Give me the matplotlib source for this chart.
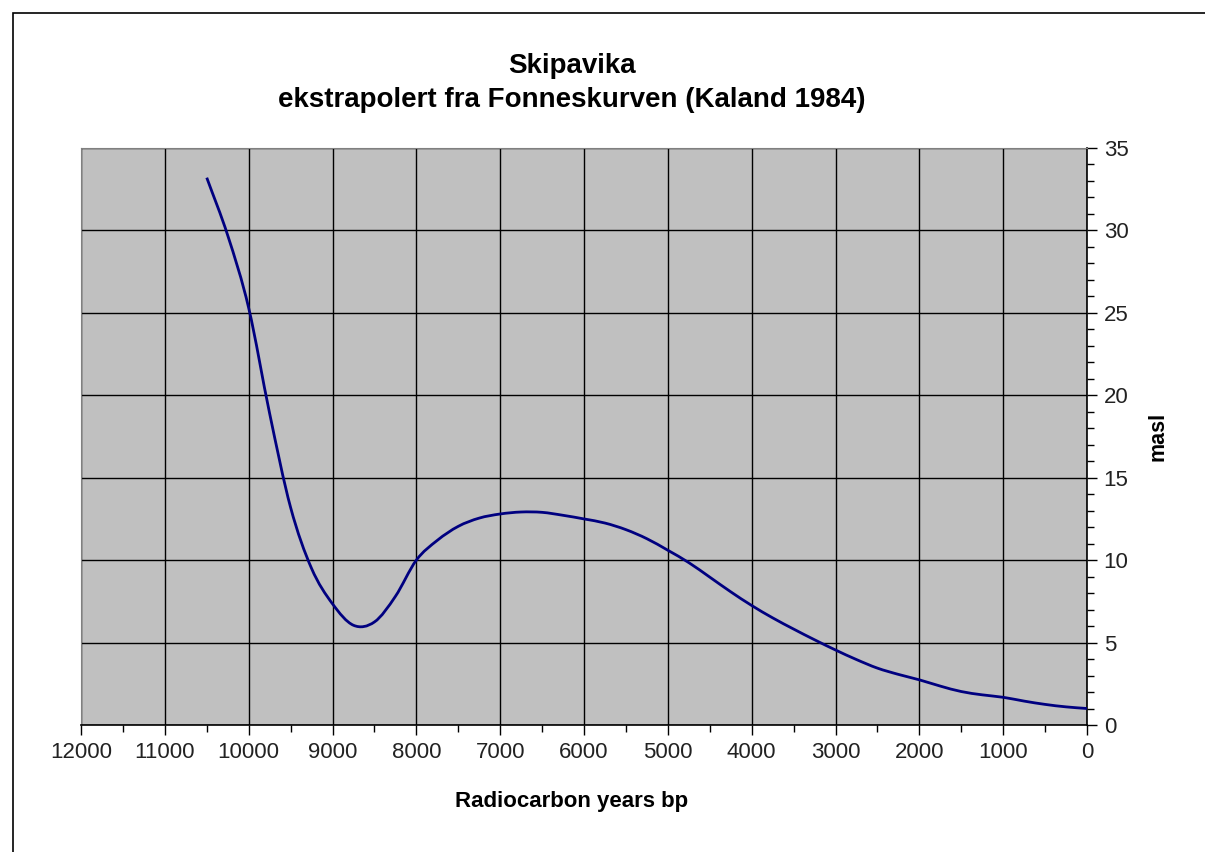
import matplotlib
matplotlib.use("Agg")
import matplotlib.pyplot as plt
from matplotlib.path import Path
from matplotlib.patches import PathPatch, Rectangle
from matplotlib.ticker import MultipleLocator

plt.rcParams['font.family'] = ['Liberation Sans', 'DejaVu Sans']

# data (radiocarbon years bp, metres above sea level)
years = [10500, 10250, 10000, 9750, 9500, 9250, 9000, 8750, 8500, 8250,
         8000, 7750, 7500, 7250, 7000, 6750, 6500, 6250, 6000, 5750,
         5500, 5250, 5000, 4750, 4500, 4250, 4000, 3750, 3500, 3250, 3000,
         2750, 2500, 2250, 2000, 1750, 1500, 1250, 1000, 750, 500, 250, 0]
masl = [33.2, 29.7, 25.3, 18.9, 13.2, 9.5, 7.35, 6.05, 6.25, 7.8,
        10.0, 11.2, 12.05, 12.55, 12.8, 12.92, 12.9, 12.72, 12.5, 12.25,
        11.85, 11.3, 10.6, 9.85, 8.97, 8.08, 7.25, 6.5, 5.82, 5.17, 4.55,
        3.97, 3.45, 3.07, 2.74, 2.36, 2.03, 1.83, 1.68, 1.45, 1.25, 1.1, 1.0]

title = "Skipavika\nekstrapolert fra Fonneskurven (Kaland 1984)"
xlabel = "Radiocarbon years bp"
ylabel = "masl"


def smooth_path(xs, ys):
    # smoothed line through the points, drawn as cubic Bezier segments
    n = len(xs)
    slopes = []
    for i in range(n):
        a = max(i - 1, 0)
        b = min(i + 1, n - 1)
        slopes.append((ys[b] - ys[a]) / (xs[b] - xs[a]))
    verts = [(xs[0], ys[0])]
    codes = [Path.MOVETO]
    for i in range(n - 1):
        h = xs[i + 1] - xs[i]
        c1 = (xs[i] + h / 3, ys[i] + slopes[i] * h / 3)
        c2 = (xs[i + 1] - h / 3, ys[i + 1] - slopes[i + 1] * h / 3)
        verts += [c1, c2, (xs[i + 1], ys[i + 1])]
        codes += [Path.CURVE4] * 3
    return Path(verts, codes)


fig = plt.figure(figsize=(12.05, 8.52), dpi=100)
fig.patches.append(Rectangle((13 / 1205, -0.1), 1.2, (852 - 13) / 852 + 0.1,
                             transform=fig.transFigure, fill=False,
                             edgecolor='black', linewidth=1.2))

ax = fig.add_axes([81 / 1205, 127 / 852, 1006 / 1205, 577 / 852])
ax.set_facecolor('#c0c0c0')
ax.set_xlim(12000, 0)
ax.set_ylim(0, 35)

ax.add_patch(PathPatch(smooth_path(years, masl), transform=ax.transData,
                       facecolor='none', edgecolor='#000080', linewidth=2.0,
                       zorder=3))

ax.xaxis.set_major_locator(MultipleLocator(1000))
ax.xaxis.set_minor_locator(MultipleLocator(500))
ax.yaxis.set_major_locator(MultipleLocator(5))
ax.yaxis.set_minor_locator(MultipleLocator(1))
ax.yaxis.tick_right()
ax.yaxis.set_label_position('right')

ax.grid(True, which='major', color='black', linewidth=1.0)
ax.tick_params(which='major', length=7, width=1.0, labelsize=16,
               colors='black', labelcolor='#222222', pad=5)
ax.tick_params(which='minor', length=5, width=1.0, colors='black')
ax.tick_params(axis='y', which='both', left=False, right=True)

for side in ['top', 'left']:
    ax.spines[side].set_color('#808080')
for side in ['bottom', 'right']:
    ax.spines[side].set_color('black')
    ax.spines[side].set_linewidth(1.2)

ax.set_xlabel(xlabel, fontsize=16, fontweight='bold', va='center')
ax.xaxis.set_label_coords((572 - 81) / 1006, -(801 - 725) / 577)
ax.set_ylabel(ylabel, fontsize=15.5, fontweight='bold', labelpad=14)
fig.text(572 / 1205, 1 - 83 / 852, title, ha='center', va='center',
         fontsize=20, fontweight='bold', linespacing=1.4)

fig.savefig("out.png", dpi=100)
